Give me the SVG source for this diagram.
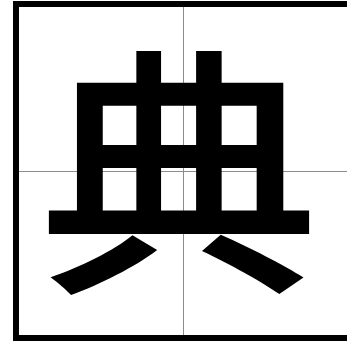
<svg xmlns="http://www.w3.org/2000/svg" width="347" height="342" viewBox="0 0 347 342">
<style>
.grid{stroke:#8c8c8c;stroke-width:1;fill:none}
.frame{stroke:#000;stroke-width:6;fill:none}
.ch{font-family:"Noto Sans CJK SC","Noto Sans CJK JP",sans-serif;font-weight:500;fill:#000}
</style>
<rect width="347" height="342" fill="#fff"/>
<g id="grid">
<line class="grid" x1="183.5" y1="7" x2="183.5" y2="335"/>
<line class="grid" x1="19" y1="171.5" x2="347" y2="171.5"/>
</g>
<g id="frame">
<rect class="frame" x="16" y="4" width="334" height="334"/>
</g>
<g id="character">
<text class="ch" x="179" y="273" font-size="262" text-anchor="middle" transform="translate(179 0) scale(1.07 1) translate(-179 0)">典</text>
</g>
</svg>
